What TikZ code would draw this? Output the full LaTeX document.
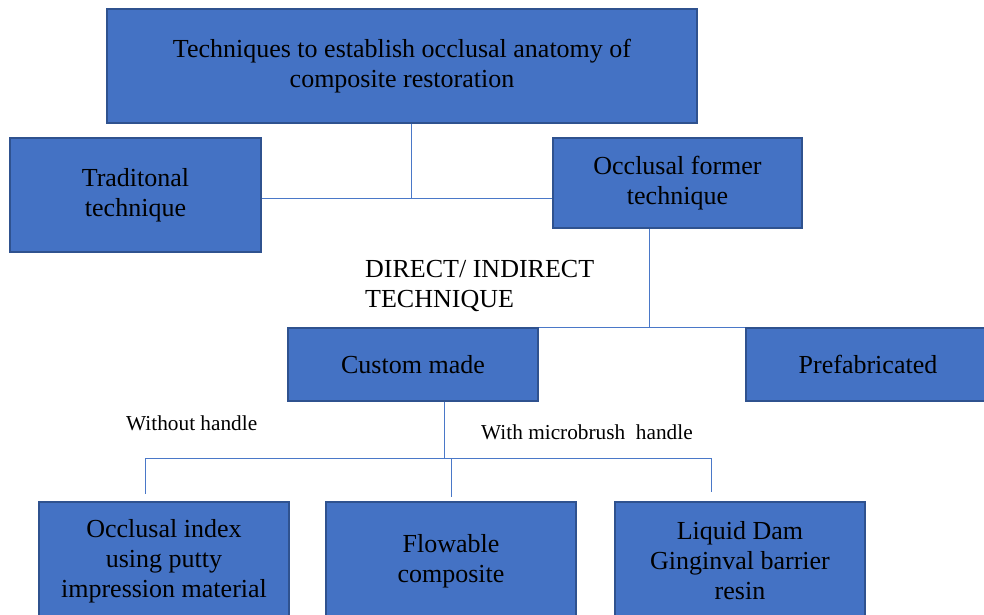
\documentclass[tikz,border=0pt]{standalone}
\usepackage{fontspec}
\setmainfont{Liberation Serif}
\definecolor{boxfill}{HTML}{4472C4}
\definecolor{boxline}{HTML}{2F528F}
\definecolor{conline}{HTML}{4A78C8}
\begin{document}
\begin{tikzpicture}[x=1pt,y=-1pt,
  box/.style={rectangle,fill=boxfill,draw=boxline,line width=1.3pt,align=center,
    font=\fontsize{26}{30}\selectfont,inner sep=0pt},
  conn/.style={draw=conline,line width=1pt},
  lbl/.style={inner sep=0pt,align=left}]
\clip (0,0) rectangle (984,614);
\fill[white] (0,0) rectangle (984,614);
\node[box,minimum width=590pt,minimum height=114pt] (top) at (402,66) {\raisebox{-2pt}{\parbox{560pt}{\centering Techniques to establish occlusal anatomy of\\composite restoration}}};
\node[box,minimum width=251pt,minimum height=114pt] (trad) at (135.5,195) {Traditonal\\technique};
\node[box,minimum width=249pt,minimum height=90pt] (occ) at (677.5,183) {Occlusal former\\technique};
\node[box,minimum width=250pt,minimum height=73pt] (custom) at (413,364.5) {Custom made};
\node[box,minimum width=244pt,minimum height=73pt] (prefab) at (868,364.5) {Prefabricated};
\node[box,minimum width=250pt,minimum height=118pt] (b1) at (164,561) {Occlusal index\\using putty\\impression material};
\node[box,minimum width=250pt,minimum height=118pt] (b2) at (451,561) {Flowable\\composite};
\node[box,minimum width=250pt,minimum height=118pt] (b3) at (740,561) {Liquid Dam\\Ginginval barrier\\resin};
\node[lbl,anchor=west,font=\fontsize{26}{30}\selectfont] (di) at (365,286) {DIRECT/ INDIRECT\\TECHNIQUE};
\node[lbl,anchor=west,font=\fontsize{21.3}{24}\selectfont] (wo) at (126,423) {Without handle};
\node[lbl,anchor=west,font=\fontsize{21.3}{24}\selectfont] (wm) at (481,432) {With microbrush\ \ handle};
\coordinate (j1) at (411,198);
\coordinate (j2) at (649,328);
\coordinate (j3) at (444,458);
\coordinate (h1) at (145,458);
\coordinate (h2) at (451,458);
\coordinate (h3) at (711,458);
\coordinate (e1) at (145,494);
\coordinate (e2) at (451,497);
\coordinate (e3) at (711,492);
\draw[conn] (top.south -| j1) -- (j1);
\draw[conn] (trad.east |- j1) -- (occ.west |- j1);
\draw[conn] (occ.south -| j2) -- (j2);
\draw[conn] (custom.north east) -- (prefab.north west);
\draw[conn] (custom.south -| j3) -- (j3);
\draw[conn] (h1) -- (h3);
\draw[conn] (h1) -- (e1);
\draw[conn] (h2) -- (e2);
\draw[conn] (h3) -- (e3);
\end{tikzpicture}
\end{document}
